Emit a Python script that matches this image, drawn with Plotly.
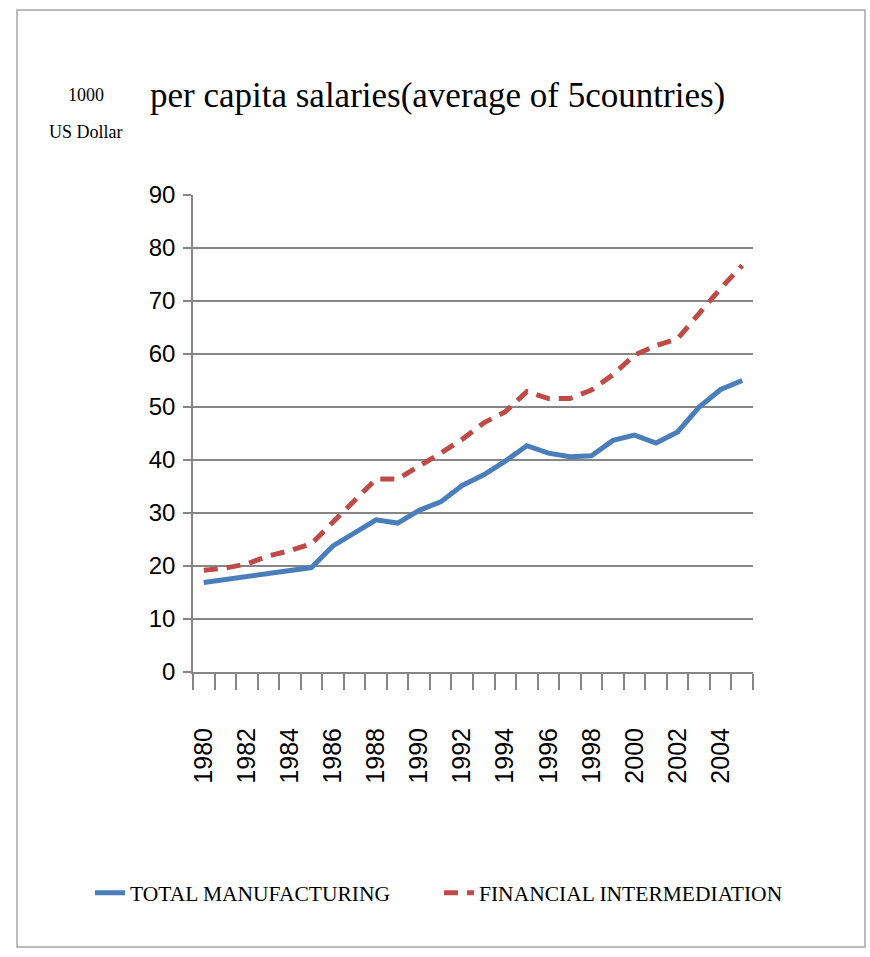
import plotly.graph_objects as go

# Years on the x axis (1980-2005) and labelled ticks every second year
years = list(range(1980, 2006))
tick_years = list(range(1980, 2005, 2))
tick_labels = [str(y) for y in tick_years]
y_ticks = list(range(0, 91, 10))

# Per capita salaries, thousand US dollars (average of 5 countries)
total_manufacturing = [16.9, 17.5, 18.0, 18.6, 19.1, 19.7, 23.8, 26.2, 28.7, 28.1,
                       30.5, 32.1, 35.2, 37.2, 39.8, 42.7, 41.3, 40.6, 40.8, 43.7,
                       44.7, 43.2, 45.3, 50.0, 53.3, 55.0]
financial_intermediation = [19.2, 19.6, 20.4, 21.9, 22.9, 24.2, 28.3, 32.5, 36.4, 36.4,
                            38.8, 41.3, 43.9, 47.0, 49.1, 52.9, 51.6, 51.6, 53.2, 56.1,
                            59.8, 61.6, 62.9, 67.6, 72.4, 76.7]

SERIF = "Liberation Serif, Times New Roman, serif"
SANS = "Liberation Sans, Arial, sans-serif"
GRID = "#868686"

fig = go.Figure()
fig.add_trace(go.Scatter(
    x=years, y=total_manufacturing, mode="lines", name="TOTAL MANUFACTURING",
    line=dict(color="#4A7EBB", width=5),
))
fig.add_trace(go.Scatter(
    x=years, y=financial_intermediation, mode="lines", name="FINANCIAL INTERMEDIATION",
    line=dict(color="#BE4B48", width=5, dash="14px,9px"),
))

fig.update_layout(
    width=870, height=957,
    margin=dict(l=193, r=117, t=195, b=285),
    paper_bgcolor="white", plot_bgcolor="white",
    showlegend=True,
    title=dict(
        text="per capita salaries(average of 5countries)",
        x=0.503, xref="container", xanchor="center",
        y=1 - 95 / 957, yref="container", yanchor="middle",
        font=dict(family=SERIF, size=35, color="black"),
    ),
    legend=dict(
        orientation="h", x=(90 - 193) / 560, xanchor="left", y=-0.463, yanchor="middle",
        font=dict(family=SERIF, size=21.5, color="black"),
        bgcolor="rgba(0,0,0,0)", itemwidth=30,
        entrywidth=304, entrywidthmode="pixels",
    ),
    xaxis=dict(
        range=[1979.5, 2005.5], tickmode="array", tickvals=tick_years, ticktext=tick_labels,
        tickangle=-90, ticks="", showgrid=False, zeroline=False,
        showline=True, linecolor=GRID, linewidth=2,
        tickfont=dict(family=SANS, size=25, color="black"),
        ticklabelstandoff=44,
        minor=dict(ticks="outside", ticklen=16, tickcolor=GRID, tickwidth=1.5,
                   tick0=1979.5, dtick=1, showgrid=False),
        fixedrange=True,
    ),
    yaxis=dict(
        range=[0, 90], tickmode="array", tickvals=y_ticks,
        ticks="outside", ticklen=8, tickcolor=GRID, tickwidth=2,
        showgrid=True, gridcolor=GRID, gridwidth=2,
        zeroline=False, showline=True, linecolor=GRID, linewidth=1.5,
        tickfont=dict(family=SANS, size=24, color="black"),
        ticklabelstandoff=3,
        fixedrange=True,
    ),
)

# Unit label above the value axis
fig.add_annotation(text="1000", xref="paper", yref="paper",
                   x=(86 - 193) / 560, y=(672 - 95) / 477, xanchor="center", yanchor="middle",
                   showarrow=False, font=dict(family=SERIF, size=18, color="black"))
fig.add_annotation(text="US Dollar", xref="paper", yref="paper",
                   x=(86 - 193) / 560, y=(672 - 132) / 477, xanchor="center", yanchor="middle",
                   showarrow=False, font=dict(family=SERIF, size=18, color="black"))

# Chart frame
fig.add_shape(type="rect", xref="paper", yref="paper",
              x0=(17 - 193) / 560, x1=(865 - 193) / 560,
              y0=(672 - 947) / 477, y1=(672 - 10) / 477,
              line=dict(color="#A6A6A6", width=1.5), fillcolor="rgba(0,0,0,0)", layer="below")

fig.write_html("out.html")
